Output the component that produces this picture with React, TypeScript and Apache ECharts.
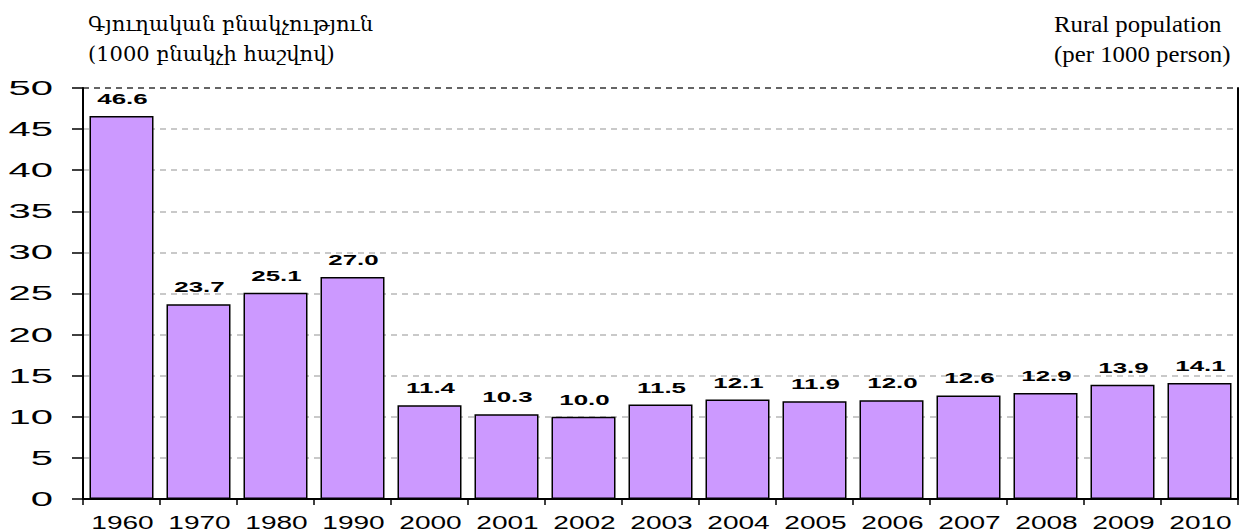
import React, { useEffect, useRef } from "react";
import * as echarts from "echarts";

const years = ["1960", "1970", "1980", "1990", "2000", "2001", "2002", "2003", "2004", "2005", "2006", "2007", "2008", "2009", "2010"];
const values = [46.6, 23.7, 25.1, 27.0, 11.4, 10.3, 10.0, 11.5, 12.1, 11.9, 12.0, 12.6, 12.9, 13.9, 14.1];
const yTicks = [0, 5, 10, 15, 20, 25, 30, 35, 40, 45, 50];
const titleLeft = ["Գյուղական բնակչություն", "(1000 բնակչի հաշվով)"];
const titleRight = ["Rural population", "(per 1000 person)"];

const SANS = '"Liberation Sans", Arial, sans-serif';
const SERIF = '"Liberation Serif", "DejaVu Serif", serif';
const ARM_SERIF = '"DejaVu Serif", "Liberation Serif", serif';

export default function App() {
  const ref = useRef<HTMLDivElement>(null);
  useEffect(() => {
    document.body.style.margin = "0";
    const chart = echarts.init(ref.current!, null, { renderer: "svg" });
    const gridColors = yTicks.map((t, i) => (i === yTicks.length - 1 ? "#333333" : "#b8b8b8"));
    chart.setOption({
      animation: false,
      grid: { left: 83, right: 7, top: 88, bottom: 32, containLabel: false },
      xAxis: {
        type: "category",
        data: years,
        boundaryGap: true,
        axisLine: { show: true, lineStyle: { color: "#000", width: 2 } },
        axisTick: { show: true, alignWithLabel: false, length: 6, lineStyle: { color: "#000", width: 1.5 } },
        axisLabel: { show: false },
        splitLine: { show: false },
      },
      yAxis: [
        {
          type: "value",
          min: 0,
          max: 50,
          interval: 5,
          axisLine: { show: true, lineStyle: { color: "#000", width: 2 } },
          axisTick: { show: true, length: 11, lineStyle: { color: "#000", width: 1.5 } },
          axisLabel: { show: false },
          splitLine: { show: true, lineStyle: { type: [6, 5], color: gridColors, width: 1.5 } },
        },
        {
          type: "value",
          position: "right",
          min: 0,
          max: 50,
          interval: 5,
          axisLine: { show: true, lineStyle: { color: "#000", width: 2 } },
          axisTick: { show: false },
          axisLabel: { show: false },
          splitLine: { show: false },
        },
      ],
      series: [
        {
          type: "bar",
          data: values,
          barWidth: 64,
          yAxisIndex: 0,
          itemStyle: { color: "#CC99FF", borderColor: "#000", borderWidth: 1.5 },
        },
      ],
    });

    const g: any[] = [];
    years.forEach((yr, i) => {
      const p = chart.convertToPixel({ gridIndex: 0 }, [i, 0]) as number[];
      g.push({
        type: "text",
        x: p[0] + 1,
        y: 522.5,
        scaleX: 1.56,
        style: { text: yr, font: `18px ${SANS}`, fill: "#000", textAlign: "center", textVerticalAlign: "middle" },
      });
      const t = chart.convertToPixel({ gridIndex: 0 }, [i, values[i]]) as number[];
      g.push({
        type: "text",
        x: p[0] + 1,
        y: t[1] - 17,
        scaleX: 1.85,
        style: { text: values[i].toFixed(1), font: `bold 14px ${SANS}`, fill: "#000", textAlign: "center", textVerticalAlign: "middle" },
      });
    });
    yTicks.forEach((v) => {
      const p = chart.convertToPixel({ gridIndex: 0 }, [0, v]) as number[];
      g.push({
        type: "text",
        x: 53,
        y: p[1],
        scaleX: 2.0,
        style: { text: String(v), font: `20px ${SANS}`, fill: "#000", textAlign: "right", textVerticalAlign: "middle" },
      });
    });
    titleLeft.forEach((s, i) => {
      g.push({
        type: "text",
        x: 88,
        y: 24 + i * 30,
        style: { text: s, font: `21px ${ARM_SERIF}`, fill: "#000", textAlign: "left", textVerticalAlign: "middle" },
      });
    });
    titleRight.forEach((s, i) => {
      g.push({
        type: "text",
        x: 1054,
        y: 24 + i * 30,
        scaleX: 1.08,
        style: { text: s, font: `23px ${SERIF}`, fill: "#000", textAlign: "left", textVerticalAlign: "middle" },
      });
    });
    chart.setOption({ graphic: g });
    return () => chart.dispose();
  }, []);
  return <div ref={ref} style={{ width: 1245, height: 531 }} />;
}
